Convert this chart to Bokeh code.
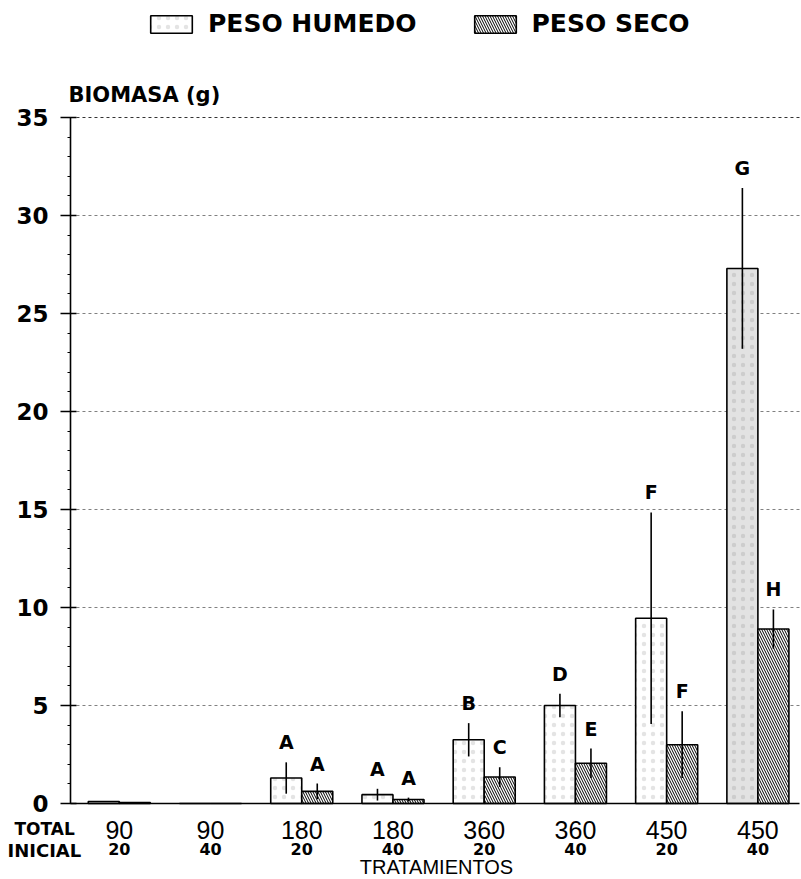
from bokeh.plotting import figure
from bokeh.models import (ColumnDataSource, Range1d, LinearAxis, FixedTicker,
                          Legend, LegendItem, Label)
from bokeh.core.properties import value
from bokeh.embed import file_html
from bokeh.resources import INLINE

# ---- data ----
totals = ["90", "90", "180", "180", "360", "360", "450", "450"]
inicial = ["20", "40", "20", "40", "20", "40", "20", "40"]
peso_humedo = [0.1, 0.0, 1.3, 0.45, 3.25, 5.0, 9.45, 27.3]
peso_humedo_err = [0.0, 0.0, 0.8, 0.3, 0.85, 0.6, 5.4, 4.1]
peso_seco = [0.05, 0.0, 0.62, 0.2, 1.35, 2.05, 3.0, 8.9]
peso_seco_err = [0.0, 0.0, 0.4, 0.1, 0.5, 0.75, 1.7, 1.0]
letras_humedo = ["", "", "A", "A", "B", "D", "F", "G"]
letras_seco = ["", "", "A", "A", "C", "E", "F", "H"]
y_ticks = [0, 5, 10, 15, 20, 25, 30, 35]

# ---- geometry of the plotting area (data units) ----
X0, X1 = -0.035, 7.96      # left/right of the plotting area
Y0, Y1 = 0, 35             # bottom/top of value axis
BW = 0.34
centers = [i + 0.5 for i in range(len(totals))]
wet_fill = ["white"] * (len(totals) - 1) + ["#e2e2e2"]
grid_colors = ["#808080"] * (len(y_ticks) - 2) + ["#333333"]

wet_src = ColumnDataSource(dict(
    x=[c - BW / 2 for c in centers], top=peso_humedo, fill=wet_fill,
    lo=[v - e for v, e in zip(peso_humedo, peso_humedo_err)],
    hi=[v + e for v, e in zip(peso_humedo, peso_humedo_err)],
    lab=letras_humedo))
dry_src = ColumnDataSource(dict(
    x=[c + BW / 2 for c in centers], top=peso_seco,
    lo=[v - e for v, e in zip(peso_seco, peso_seco_err)],
    hi=[v + e for v, e in zip(peso_seco, peso_seco_err)],
    lab=letras_seco))
grid_src = ColumnDataSource(dict(y=y_ticks[1:], x0=[X0] * (len(y_ticks) - 1),
                                 x1=[X1] * (len(y_ticks) - 1), c=grid_colors))

BOLD = "DejaVu Sans"

p = figure(width=800, height=878, output_backend="svg", toolbar_location=None,
           title=None, x_range=Range1d(-0.802, 7.967), y_range=Range1d(-3.827, 40.97),
           min_border=0)
p.outline_line_color = None
p.background_fill_color = "white"
p.border_fill_color = "white"
p.xgrid.visible = False
p.ygrid.visible = False

# dashed horizontal grid lines at the value ticks (behind the bars)
p.segment(x0="x0", x1="x1", y0="y", y1="y", source=grid_src,
          line_color="c", line_dash="3 3", line_width=1)

# bars
wet_r = p.vbar(x="x", top="top", width=BW, source=wet_src, fill_color="fill",
               line_color="black", line_width=1.6,
               hatch_pattern="dot", hatch_color="#777777", hatch_scale=9,
               hatch_weight=0.8, hatch_alpha=0.2)
dry_r = p.vbar(x="x", top="top", width=BW, source=dry_src, fill_color="white",
               line_color="black", line_width=1.6,
               hatch_pattern="\\", hatch_color="black", hatch_scale=5,
               hatch_weight=1)

# error bars and letters
for src in (wet_src, dry_src):
    p.segment(x0="x", x1="x", y0="lo", y1="hi", source=src,
              line_color="black", line_width=1.6)
    p.text(x="x", y="hi", text="lab", source=src, text_align="center",
           text_baseline="bottom", y_offset=-9, text_font=value(BOLD),
           text_font_style="bold", text_font_size="19px", text_color="black")

# y axis (drawn at the left edge of the plotting area)
ya = p.yaxis[0]
ya.fixed_location = X0
ya.bounds = (Y0, Y1)
ya.ticker = FixedTicker(ticks=y_ticks, minor_ticks=list(range(0, 36)))
ya.axis_line_color = "black"
ya.axis_line_width = 1.6
ya.major_tick_line_color = "black"
ya.major_tick_line_width = 1.6
ya.major_tick_out = 10
ya.major_tick_in = 6
ya.minor_tick_out = 3
ya.minor_tick_in = 0
ya.minor_tick_line_color = "black"
ya.major_label_text_font = BOLD
ya.major_label_text_font_style = "bold"
ya.major_label_text_font_size = "23px"
ya.major_label_text_color = "black"
ya.major_label_standoff = 12

# x axis 1: total
xa = p.xaxis[0]
xa.fixed_location = Y0
xa.bounds = (X0, X1)
xa.ticker = FixedTicker(ticks=centers)
xa.major_label_overrides = {c: t for c, t in zip(centers, totals)}
xa.axis_line_color = "black"
xa.axis_line_width = 1.6
xa.major_tick_out = 0
xa.major_tick_in = 0
xa.minor_tick_out = 0
xa.minor_tick_in = 0
xa.major_label_text_font = "Liberation Sans"
xa.major_label_text_font_size = "25px"
xa.major_label_text_color = "black"
xa.major_label_standoff = 18

# x axis 2: inicial
xb = LinearAxis(ticker=FixedTicker(ticks=centers), fixed_location=Y0, bounds=(X0, X1))
xb.major_label_overrides = {c: t for c, t in zip(centers, inicial)}
xb.axis_line_color = None
xb.major_tick_line_color = None
xb.minor_tick_line_color = None
xb.major_label_text_font = BOLD
xb.major_label_text_font_style = "bold"
xb.major_label_text_font_size = "16px"
xb.major_label_text_color = "black"
xb.major_label_standoff = 34
p.add_layout(xb, "below")

# captions (screen units from the bottom-left corner of the plotting canvas)
captions = [("BIOMASA (g)", 68, 784, "left", BOLD, "bold", "21px"),
            ("TOTAL", 14, 50, "left", BOLD, "bold", "17px"),
            ("INICIAL", 7, 28, "left", BOLD, "bold", "18px"),
            ("TRATAMIENTOS", 436, 12, "center", "Liberation Sans", "normal", "20px")]
for txt, xx, yy, al, fnt, sty, sz in captions:
    p.add_layout(Label(x=xx, y=yy, x_units="screen", y_units="screen", text=txt,
                       text_font=fnt, text_font_style=sty,
                       text_font_size=sz, text_baseline="alphabetic",
                       text_align=al, text_color="black"))

# legend
legend = Legend(items=[LegendItem(label="PESO HUMEDO", renderers=[wet_r], index=2),
                       LegendItem(label="PESO SECO", renderers=[dry_r], index=2)],
                orientation="horizontal", location=(145, 840),
                glyph_width=52, glyph_height=22, label_standoff=11, spacing=52,
                padding=0, margin=0, border_line_color=None,
                background_fill_alpha=0,
                label_text_font=BOLD, label_text_font_style="bold",
                label_text_font_size="25px", label_text_color="black")
p.add_layout(legend, "center")

open("out.html", "w").write(file_html(p, INLINE))
